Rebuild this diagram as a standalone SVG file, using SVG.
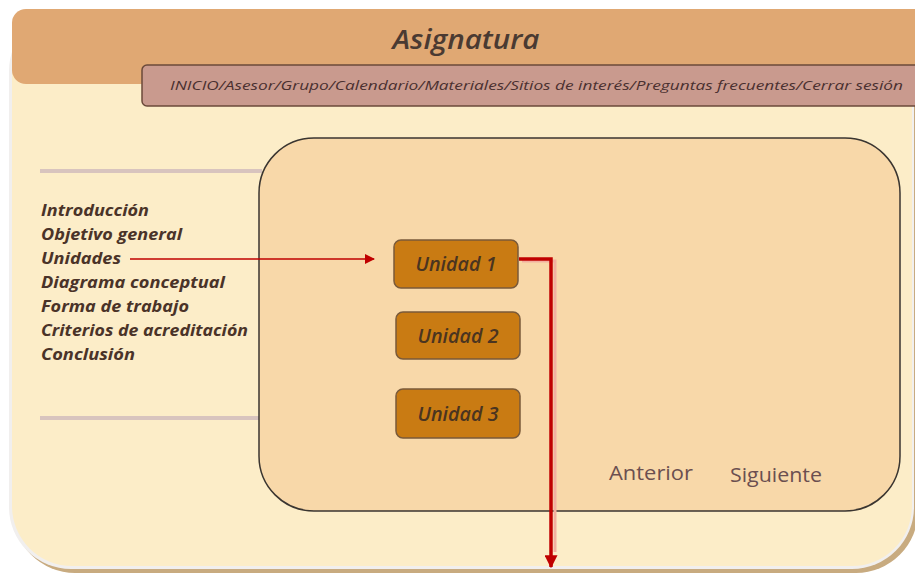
<svg xmlns="http://www.w3.org/2000/svg" width="915" height="577" viewBox="0 0 915 577">
  <defs>
    <style>
      .menu { font-family: "Open Sans", "Noto Sans", sans-serif; font-style: italic; font-weight: bold; font-size: 16.5px; fill: #4a3328; }
      .unit-box { fill: #c97b13; stroke: #7a5a3a; stroke-width: 1.5; }
      .unit-txt { font-family: "Open Sans", "Noto Sans", sans-serif; font-style: italic; font-weight: 600; font-size: 19.5px; fill: #4a3420; text-anchor: middle; }
      .nav-txt { font-family: "Open Sans", "Noto Sans", sans-serif; font-style: italic; font-size: 12.5px; fill: #4a3030; }
      .pager { font-family: "Open Sans", "Noto Sans", sans-serif; font-size: 20px; fill: #6b4f50; }
      .rule { stroke: #d8c4be; stroke-width: 4; }
    </style>
    <marker id="tipThin" viewBox="0 0 10 10" refX="9" refY="5" markerWidth="11" markerHeight="10" markerUnits="userSpaceOnUse" orient="auto">
      <path d="M0,0 L10,5 L0,10 z" fill="#c00000"/>
    </marker>
    <marker id="tipThick" viewBox="0 0 10 10" refX="9" refY="5" markerWidth="13" markerHeight="13" markerUnits="userSpaceOnUse" orient="auto">
      <path d="M0,0 L10,5 L0,10 z" fill="#c00000"/>
    </marker>
  </defs>

  <rect width="915" height="577" fill="#ffffff"/>

  <!-- outer page panel with shadow -->
  <g id="page">
    <rect x="13" y="13" width="905" height="560" rx="62" fill="#c8ab80"/>
    <rect x="9" y="9" width="905" height="560" rx="62" fill="#f1efee"/>
    <rect x="12" y="10" width="900" height="556" rx="60" fill="#fcedc8"/>
  </g>

  <!-- header band -->
  <g id="header">
    <rect x="12" y="9" width="920" height="75" rx="14" fill="#e0a873"/>
    <text x="466" y="49" text-anchor="middle" font-family="Open Sans, Noto Sans, sans-serif" font-style="italic" font-weight="600" font-size="27" fill="#4a3a32" textLength="147" lengthAdjust="spacingAndGlyphs">Asignatura</text>
  </g>

  <!-- navigation bar -->
  <g id="nav">
    <rect x="142" y="65" width="790" height="41" rx="5" fill="#c99a8e" stroke="#6b4a3a" stroke-width="1.5"/>
    <text class="nav-txt" x="170" y="90" textLength="733" lengthAdjust="spacingAndGlyphs">INICIO/Asesor/Grupo/Calendario/Materiales/Sitios de interés/Preguntas frecuentes/Cerrar sesión</text>
  </g>

  <!-- side menu -->
  <g id="menu">
    <line class="rule" x1="40" y1="171" x2="262" y2="171"/>
    <line class="rule" x1="40" y1="418" x2="262" y2="418"/>
    <text class="menu" x="41" y="216" textLength="108" lengthAdjust="spacingAndGlyphs">Introducción</text>
    <text class="menu" x="41" y="240" textLength="141" lengthAdjust="spacingAndGlyphs">Objetivo general</text>
    <text class="menu" x="41" y="264" textLength="80" lengthAdjust="spacingAndGlyphs">Unidades</text>
    <text class="menu" x="41" y="288" textLength="184" lengthAdjust="spacingAndGlyphs">Diagrama conceptual</text>
    <text class="menu" x="41" y="312" textLength="148" lengthAdjust="spacingAndGlyphs">Forma de trabajo</text>
    <text class="menu" x="41" y="336" textLength="207" lengthAdjust="spacingAndGlyphs">Criterios de acreditación</text>
    <text class="menu" x="41" y="360" textLength="94" lengthAdjust="spacingAndGlyphs">Conclusión</text>
  </g>

  <!-- content area -->
  <g id="content">
    <rect x="259" y="138" width="641" height="373" rx="55" fill="#f8d8a9" stroke="#3a3530" stroke-width="1.5"/>
    <text class="pager" x="609" y="480" textLength="84" lengthAdjust="spacingAndGlyphs">Anterior</text>
    <text class="pager" x="730" y="482" textLength="92" lengthAdjust="spacingAndGlyphs">Siguiente</text>
  </g>

  <g id="unidad1">
    <rect class="unit-box" x="394" y="240" width="124" height="48" rx="7"/>
    <text class="unit-txt" x="456" y="271" textLength="81" lengthAdjust="spacingAndGlyphs">Unidad 1</text>
  </g>
  <g id="unidad2">
    <rect class="unit-box" x="396" y="312" width="124" height="47" rx="7"/>
    <text class="unit-txt" x="458" y="343" textLength="81" lengthAdjust="spacingAndGlyphs">Unidad 2</text>
  </g>
  <g id="unidad3">
    <rect class="unit-box" x="396" y="389" width="124" height="49" rx="7"/>
    <text class="unit-txt" x="458" y="421" textLength="81" lengthAdjust="spacingAndGlyphs">Unidad 3</text>
  </g>

  <!-- connectors -->
  <g id="connectors" fill="none" stroke="#c00000">
    <line x1="130" y1="259" x2="374" y2="259" stroke-width="1.6" marker-end="url(#tipThin)"/>
    <polyline points="520,259 553,259 553,550" stroke="#f2b0a0" stroke-width="3" transform="translate(2,2)"/>
    <polyline points="519,259 551,259 551,567" stroke-width="3.5" marker-end="url(#tipThick)"/>
  </g>
</svg>
